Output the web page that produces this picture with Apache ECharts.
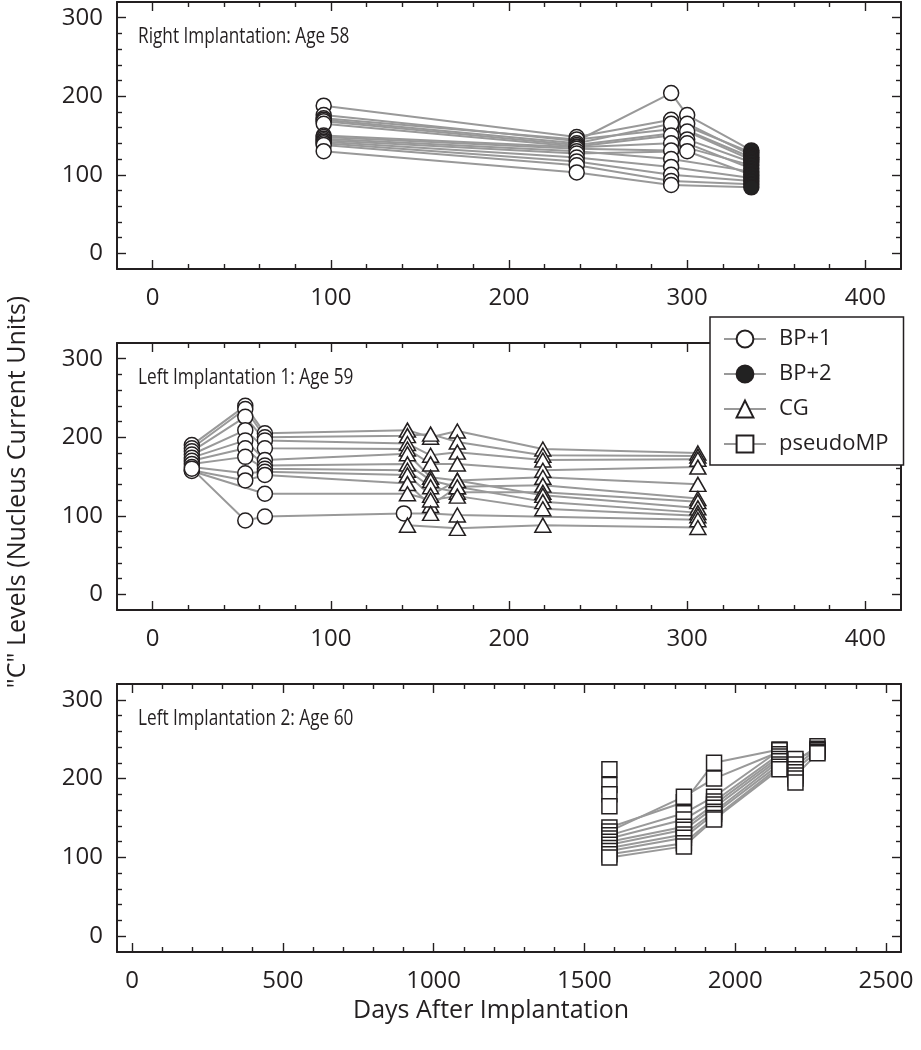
<!DOCTYPE html>
<html><head><meta charset="utf-8">
<script src="https://cdn.jsdelivr.net/npm/echarts@6/dist/echarts.min.js"></script>
<style>html,body{margin:0;padding:0;background:#fff}#c{width:921px;height:1050px}</style>
</head><body><div id="c"></div>
<script>
// ---------------- data ----------------
const modeNames = ['BP+1', 'BP+2', 'CG', 'pseudoMP'];

// Panel 1: Right implantation, age 58
const topDays = [96, 238, 291, 300, 336];
const topModes = ['BP+1', 'BP+1', 'BP+1', 'BP+1', 'BP+2'];
const topElectrodes = [
  [188, 148, 170, null, 128],
  [176, 143, 204, 176, 131],
  [172, 145, 158, 165, 125],
  [170, 140, 165, null, 122],
  [168, 138, null, 155, 119],
  [165, 136, 150, 145, 116],
  [150, 135, 140, null, 112],
  [148, 133, 131, 140, 108],
  [146, 130, 120, null, 104],
  [144, 127, null, 130, 100],
  [142, 122, 110, null, 96],
  [140, 117, 100, null, 92],
  [138, 112, 92, null, 88],
  [130, 103, 87, null, 84]
];

// Panel 2: Left implantation 1, age 59
const midDays = [22, 52, 63, 141, 143, 156, 171, 219, 306];
const midModes = ['BP+1', 'BP+1', 'BP+1', 'BP+1', 'CG', 'CG', 'CG', 'CG', 'CG'];
const midElectrodes = [
  [190, 240, 205, null, 209, 200, 208, 185, 180],
  [186, 236, 200, null, 202, 204, 194, 177, 176],
  [182, 226, 196, null, 192, 177, 181, 171, 172],
  [178, 209, 186, null, 185, 166, 166, 158, 162],
  [174, 196, 171, null, 179, 149, 145, 149, 140],
  [170, 186, 164, null, 166, 145, 137, 139, 122],
  [166, 175, 160, null, 158, 137, 130, 130, 118],
  [162, 154, 156, null, 152, 126, 145, 126, 110],
  [158, 145, 152, null, 141, 113, 137, 118, 104],
  [157, null, 128, null, 128, 120, 125, 109, 100],
  [160, 94, 99, 103, null, 103, 101, null, 95],
  [null, null, null, null, 88, null, 84, 88, 85]
];

// Panel 3: Left implantation 2, age 60
const botDays = [1583, 1830, 1930, 2147, 2200, 2273];
const botModes = ['pseudoMP', 'pseudoMP', 'pseudoMP', 'pseudoMP', 'pseudoMP', 'pseudoMP'];
const botElectrodes = [
  [212, null, null, null, null, null],
  [192, null, null, null, null, null],
  [180, null, null, null, null, null],
  [165, null, null, null, null, null],
  [138, 170, 220, 237, 222, 241],
  [133, 177, 200, 234, 216, 238],
  [128, 156, 177, 236, 225, 236],
  [124, 148, 171, 231, 218, null],
  [120, 139, 167, 228, 212, 234],
  [116, 135, 163, 225, 208, null],
  [112, 129, 158, 222, 204, 232],
  [108, 125, 155, 218, 200, null],
  [104, 118, 150, 215, 195, null],
  [100, 114, 148, 212, null, null]
];

// tick labels
const xTicksShort = [0, 100, 200, 300, 400];
const xTicksLong = [0, 500, 1000, 1500, 2000, 2500];
const yTicks = [0, 100, 200, 300];

const panelTitles = ['Right Implantation: Age 58', 'Left Implantation 1: Age 59', 'Left Implantation 2: Age 60'];
const yAxisTitle = '"C" Levels (Nucleus Current Units)';
const xAxisTitle = 'Days After Implantation';

// ---------------- style ----------------
const INK = '#231f20';
const GRAY = '#999999';
const LABEL_FONT = "'Open Sans', sans-serif";
const TEXT_FONT = "'Open Sans', sans-serif";
const SYM = {
  'BP+1': { symbol: 'circle', size: 15, fill: '#ffffff' },
  'BP+2': { symbol: 'circle', size: 15, fill: '#222222' },
  'CG': { symbol: 'triangle', size: [16, 14], fill: '#ffffff' },
  'pseudoMP': { symbol: 'rect', size: 15, fill: '#ffffff' }
};

function minorTicks(lo, hi, step, majors) {
  const out = [];
  for (let v = lo + step; v < hi; v += step) if (!majors.includes(v)) out.push(v);
  return out;
}

const panels = [
  { days: topDays, modes: topModes, values: topElectrodes, xMin: -20, xMax: 420, xMajor: xTicksShort, xMinor: minorTicks(0, 400, 20, xTicksShort), top: 2, height: 267 },
  { days: midDays, modes: midModes, values: midElectrodes, xMin: -20, xMax: 420, xMajor: xTicksShort, xMinor: minorTicks(0, 400, 20, xTicksShort), top: 343, height: 267 },
  { days: botDays, modes: botModes, values: botElectrodes, xMin: -50, xMax: 2550, xMajor: xTicksLong, xMinor: minorTicks(0, 2500, 100, xTicksLong), top: 684, height: 268 }
];
const yMinor = minorTicks(0, 300, 20, yTicks);
const plain = v => String(v);

const grids = [], xAxes = [], yAxes = [], series = [], graphics = [];

panels.forEach((p, gi) => {
  grids.push({ left: 117, width: 784, top: p.top, height: p.height, containLabel: false });
  const xb = { type: 'value', gridIndex: gi, min: p.xMin, max: p.xMax, splitLine: { show: false }, axisLabel: { show: false }, axisLine: { show: false, onZero: false } };
  const yb = { type: 'value', gridIndex: gi, min: -20, max: 320, splitLine: { show: false }, axisLabel: { show: false }, axisLine: { show: false, onZero: false } };
  const lineS = { show: true, onZero: false, lineStyle: { color: INK, width: 2 } };
  const tick = (vals, len) => ({ show: true, inside: true, length: len, customValues: vals, lineStyle: { color: INK, width: 1.4 } });
  const xi = xAxes.length, yi = yAxes.length;
  xAxes.push(
    Object.assign({}, xb, { position: 'bottom', axisLine: lineS, axisTick: tick(p.xMajor, 9),
      axisLabel: { show: true, customValues: p.xMajor, formatter: plain, margin: 17, fontSize: 24, fontFamily: LABEL_FONT, color: INK } }),
    Object.assign({}, xb, { position: 'bottom', axisTick: tick(p.xMinor, 5) }),
    Object.assign({}, xb, { position: 'top', axisLine: lineS, axisTick: tick(p.xMajor, 9) }),
    Object.assign({}, xb, { position: 'top', axisTick: tick(p.xMinor, 5) })
  );
  yAxes.push(
    Object.assign({}, yb, { position: 'left', axisLine: lineS, axisTick: tick(yTicks, 9),
      axisLabel: { show: true, customValues: yTicks, formatter: plain, margin: 14, fontSize: 24, fontFamily: LABEL_FONT, color: INK } }),
    Object.assign({}, yb, { position: 'left', axisTick: tick(yMinor, 5) }),
    Object.assign({}, yb, { position: 'right', axisLine: lineS, axisTick: tick(yTicks, 9) }),
    Object.assign({}, yb, { position: 'right', axisTick: tick(yMinor, 5) })
  );

  // connecting lines, one per electrode
  p.values.forEach(row => {
    const pts = [];
    row.forEach((v, i) => { if (v != null) pts.push([p.days[i], v]); });
    series.push({ type: 'line', xAxisIndex: xi, yAxisIndex: yi, data: pts, symbol: 'none',
      lineStyle: { color: GRAY, width: 2 }, silent: true, z: 2, animation: false });
  });
  // markers, one series per stimulation mode
  modeNames.forEach(m => {
    const pts = [];
    p.values.forEach(row => row.forEach((v, i) => { if (v != null && p.modes[i] === m) pts.push([p.days[i], v]); }));
    if (!pts.length) return;
    series.push({ type: 'line', name: m, xAxisIndex: xi, yAxisIndex: yi, data: pts,
      symbol: SYM[m].symbol, symbolSize: SYM[m].size, showSymbol: true, showAllSymbol: true,
      lineStyle: { opacity: 0, width: 0 }, itemStyle: { color: SYM[m].fill, borderColor: INK, borderWidth: 1.5 },
      emphasis: { disabled: true }, silent: true, z: 3, animation: false });
  });

  graphics.push({ type: 'text', x: 138, y: p.top + 35, scaleX: 0.82, silent: true,
    style: { text: panelTitles[gi], fontSize: 21, fontFamily: TEXT_FONT, fill: INK, verticalAlign: 'middle', align: 'left' } });
});

graphics.push({ type: 'text', x: 18, y: 492, rotation: Math.PI / 2, silent: true,
  style: { text: yAxisTitle, fontSize: 25, fontFamily: TEXT_FONT, fill: INK, verticalAlign: 'middle', align: 'center' } });
graphics.push({ type: 'text', x: 353, y: 1011, silent: true,
  style: { text: xAxisTitle, fontSize: 25, fontFamily: TEXT_FONT, fill: INK, verticalAlign: 'middle', align: 'left' } });

const chart = echarts.init(document.getElementById('c'), null, { renderer: 'canvas' });
chart.setOption({
  animation: false,
  backgroundColor: '#ffffff',
  grid: grids,
  xAxis: xAxes,
  yAxis: yAxes,
  series: series,
  graphic: graphics,
  legend: {
    data: modeNames, orient: 'vertical', left: 710, top: 317,
    padding: [11, 15, 10, 13], itemWidth: 42, itemHeight: 21, itemGap: 13,
    backgroundColor: '#ffffff', borderColor: INK, borderWidth: 1.5, borderRadius: 0,
    selectedMode: false, z: 10,
    textStyle: { fontFamily: TEXT_FONT, fontSize: 22, color: INK, padding: [0, 0, 0, 8] },
    lineStyle: { color: GRAY, width: 2, opacity: 1, type: 'solid' }
  }
});
</script>
</body></html>
